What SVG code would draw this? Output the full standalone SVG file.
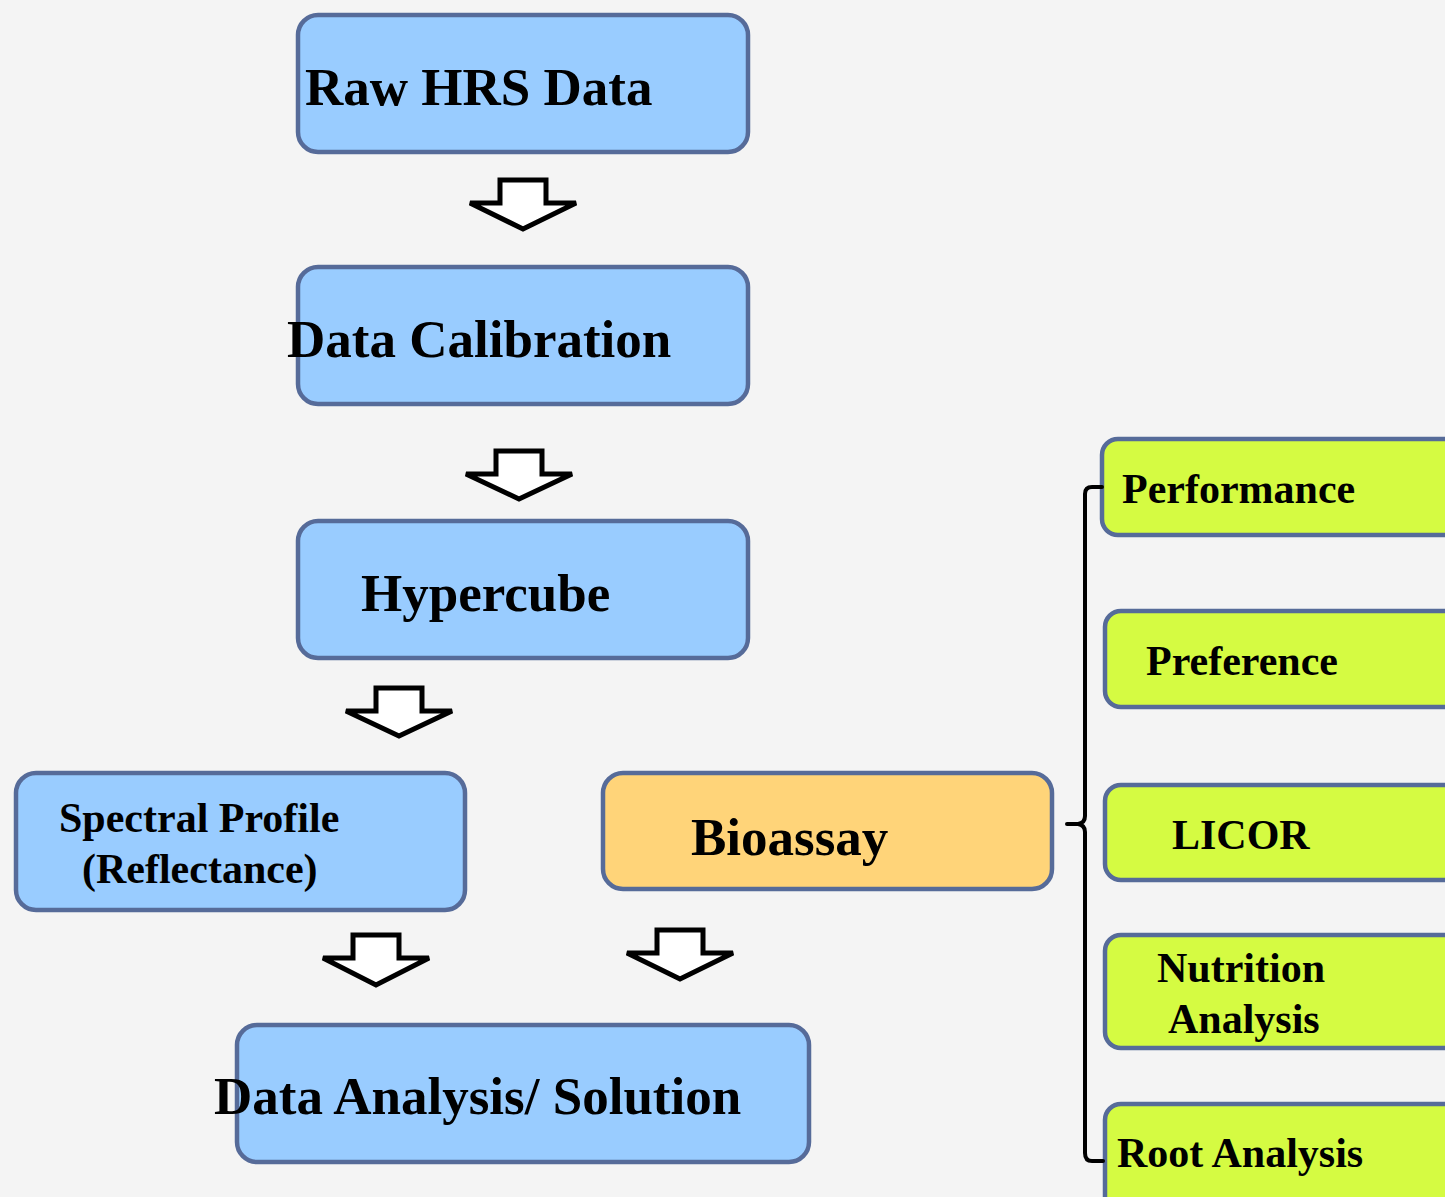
<svg xmlns="http://www.w3.org/2000/svg" width="1445" height="1197" viewBox="0 0 1445 1197">
<style>
.box{stroke:#566b99;stroke-width:4.5}
.blue{fill:#99ccff}
.orange{fill:#ffd479}
.green{fill:#d5fb42}
.t{font-family:"Liberation Serif","Times New Roman",serif;font-weight:bold;fill:#000}
.big{font-size:53px}
.mid{font-size:42px}
.arrow{fill:#fff;stroke:#000;stroke-width:5;stroke-linejoin:miter}
.br{fill:none;stroke:#000;stroke-width:4;stroke-linejoin:round;stroke-linecap:round}
</style>
<rect width="1445" height="1197" fill="#f4f4f4"/>
<g id="raw"><rect class="box blue" x="298" y="15" width="450" height="137" rx="20"/><text class="t big" x="305" y="105">Raw HRS Data</text></g>
<g id="calib"><rect class="box blue" x="298" y="267" width="450" height="137" rx="20"/><text class="t big" x="287" y="357">Data Calibration</text></g>
<g id="hyper"><rect class="box blue" x="298" y="521" width="450" height="137" rx="20"/><text class="t big" x="361" y="611">Hypercube</text></g>
<g id="spectral"><rect class="box blue" x="16" y="773" width="449" height="137" rx="20"/><text class="t mid" x="59" y="832">Spectral Profile</text><text class="t mid" x="82" y="883">(Reflectance)</text></g>
<g id="bioassay"><rect class="box orange" x="603" y="773" width="449" height="116" rx="20"/><text class="t big" x="691" y="855">Bioassay</text></g>
<g id="analysis"><rect class="box blue" x="237" y="1025" width="572" height="137" rx="20"/><text class="t big" x="214" y="1114">Data Analysis/ Solution</text></g>
<g id="performance"><rect class="box green" x="1102" y="439" width="360" height="96" rx="16"/><text class="t mid" x="1122" y="503">Performance</text></g>
<g id="preference"><rect class="box green" x="1105" y="611" width="360" height="96" rx="16"/><text class="t mid" x="1146" y="675">Preference</text></g>
<g id="licor"><rect class="box green" x="1105" y="785" width="360" height="95" rx="16"/><text class="t mid" x="1172" y="849">LICOR</text></g>
<g id="nutrition"><rect class="box green" x="1105" y="935" width="360" height="113" rx="16"/><text class="t mid" x="1157" y="982">Nutrition</text><text class="t mid" x="1168" y="1033">Analysis</text></g>
<g id="root"><rect class="box green" x="1105" y="1104" width="360" height="120" rx="16"/><text class="t mid" x="1117" y="1167">Root Analysis</text></g>
<g id="connectors">
<path class="arrow" d="M500 180 H546 V203 H576 L523 229 L470 203 H500 Z"/>
<path class="arrow" d="M496 451 H542 V474 H572 L519 499 L466 474 H496 Z"/>
<path class="arrow" d="M376 688 H422 V711 H452 L399 736 L346 711 H376 Z"/>
<path class="arrow" d="M353 935 H399 V958 H429 L376 985 L323 958 H353 Z"/>
<path class="arrow" d="M657 930 H703 V953 H733 L680 979 L627 953 H657 Z"/>
<path class="br" d="M1102 487 H1092 Q1085 487 1085 494 V816 Q1085 823 1078 824 Q1070 824 1067 824 M1078 824 Q1085 825 1085 832 V1153 Q1085 1161 1092 1161 H1103"/>
</g>
</svg>
